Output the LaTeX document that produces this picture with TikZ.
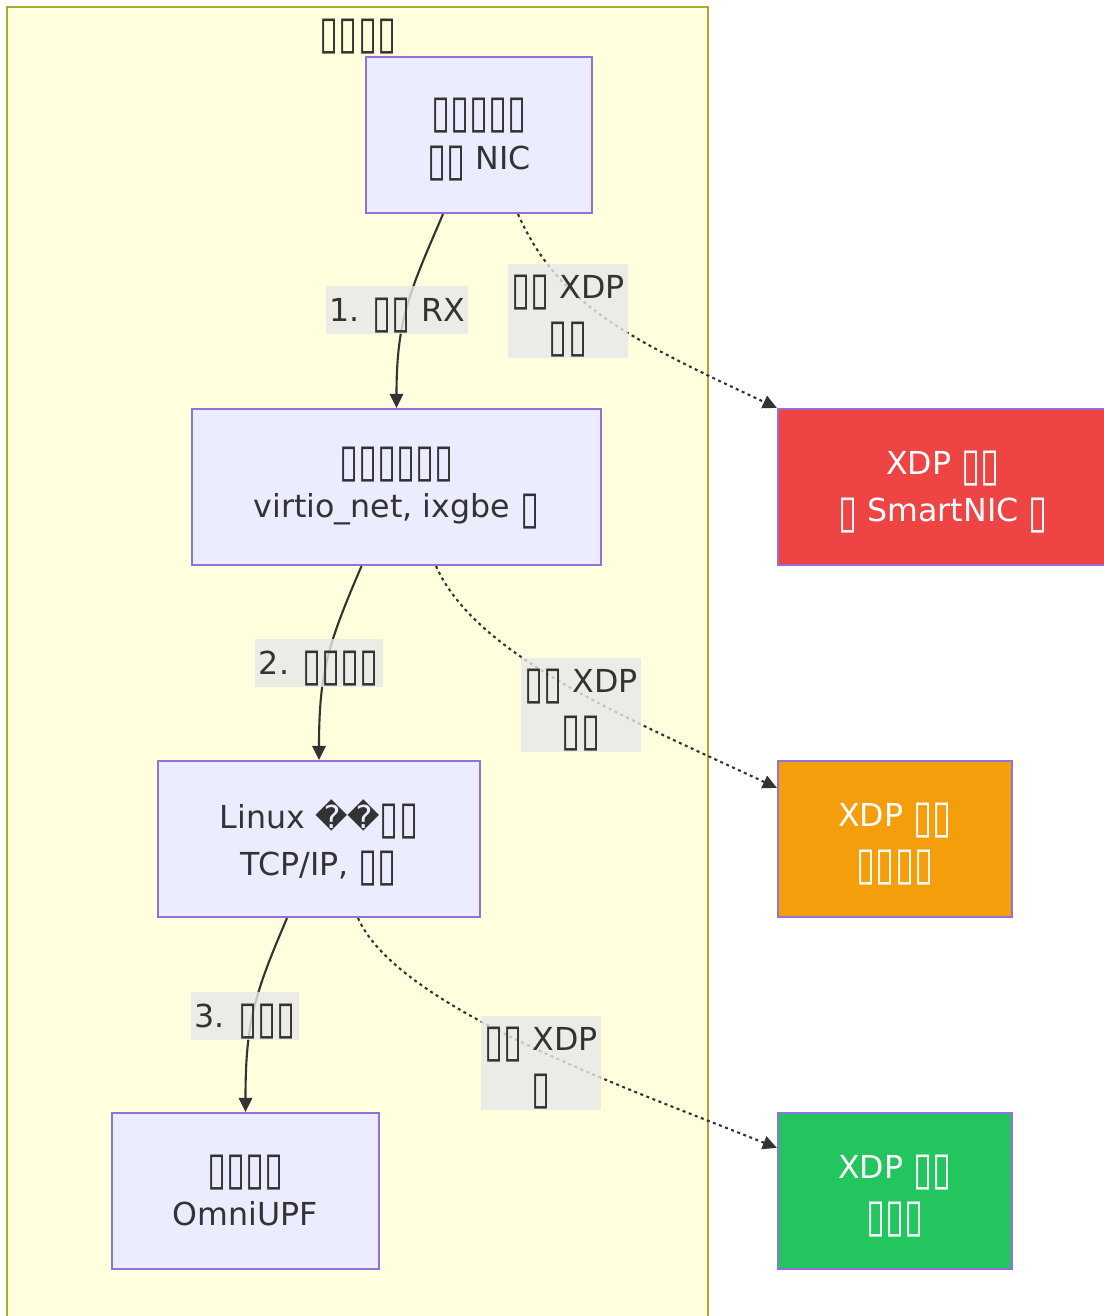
\documentclass[tikz,border=0pt]{standalone}
\usepackage{graphicx}
\usepackage{fontspec}
\setmainfont{DejaVu Sans}
\usetikzlibrary{calc,arrows.meta}

\definecolor{clfill}{HTML}{FFFFDE}
\definecolor{cldraw}{HTML}{AAAA33}
\definecolor{ndfill}{HTML}{ECECFF}
\definecolor{nddraw}{HTML}{9370DB}
\definecolor{txt}{HTML}{333333}
\definecolor{lblbg}{HTML}{E8E8E8}
\definecolor{xdpred}{HTML}{EF4444}
\definecolor{xdporange}{HTML}{F59E0B}
\definecolor{xdpgreen}{HTML}{22C55E}

% 表示できない文字
\newcommand{\tofu}{\raisebox{-0.18em}[0.7em][0pt]{\scalebox{1.1}[1.45]{▯}}}

\tikzset{
  box/.style={draw=nddraw, fill=ndfill, line width=0.6pt, minimum height=1.56cm,
    align=center, text=txt, font=\fontsize{9}{13.4}\selectfont},
  xdpbox/.style={box, text=white},
  elabel/.style={fill=lblbg, fill opacity=0.8, text opacity=1, text=txt,
    inner xsep=1pt, inner ysep=0pt, minimum height=0.47cm, align=center,
    font=\fontsize{9}{13.4}\selectfont},
  uflow/.style={draw=txt, line width=0.6pt, -{Triangle[length=4pt,width=3.8pt]}},
  xflow/.style={uflow, dash pattern=on 0.85pt off 1pt},
}

\begin{document}
\begin{tikzpicture}[x=0.01cm, y=-0.01cm]
  \useasboundingbox (0,0) rectangle (1103,1316);
  % 枠
  \draw[draw=cldraw, fill=clfill, line width=0.75pt] (7,7) rectangle (708,1340);
  \node[text=txt, font=\fontsize{9}{13.4}\selectfont] (host) at (358,32) {\tofu\tofu\tofu\tofu};
  % ノード
  \node[box, minimum width=2.26cm] (nic) at (479,135) {\tofu\tofu\tofu\tofu\tofu\\\tofu\tofu{} NIC};
  \node[box, minimum width=4.09cm] (drv) at (396.5,487) {\tofu\tofu\tofu\tofu\tofu\tofu\\virtio\_net, ixgbe \tofu};
  \node[box, minimum width=3.22cm] (kern) at (319,839) {Linux ��\tofu\tofu\\TCP/IP, \tofu\tofu};
  \node[box, minimum width=2.67cm] (app) at (245.5,1191) {\tofu\tofu\tofu\tofu\\OmniUPF};
  \node[xdpbox, fill=xdpred, minimum width=3.30cm] (offl) at (943,487) {XDP \tofu\tofu\\\tofu{} SmartNIC \tofu};
  \node[xdpbox, fill=xdporange, minimum width=2.34cm] (natv) at (895,839) {XDP \tofu\tofu\\\tofu\tofu\tofu\tofu};
  \node[xdpbox, fill=xdpgreen, minimum width=2.34cm] (gnrc) at (895,1191) {XDP \tofu\tofu\\\tofu\tofu\tofu};
  % 実線
  \draw[uflow] ($(nic.south)+(-36,0)$) .. controls +(-33,77) and +(0,-89) .. (drv.north);
  \draw[uflow] ($(drv.south)+(-35,0)$) .. controls +(-33,77) and +(0,-89) .. (kern.north);
  \draw[uflow] ($(kern.south)+(-32,0)$) .. controls +(-33,77) and +(0,-89) .. (app.north);
  % 点線
  \draw[xflow] ($(nic.south)+(39,0)$) .. controls +(40,90) and +(-150,-70) .. (offl.north west);
  \draw[xflow] ($(drv.south)+(39.5,0)$) .. controls +(40,90) and +(-150,-70) .. ($(natv.north west)+(0,28)$);
  \draw[xflow] ($(kern.south)+(39,0)$) .. controls +(40,90) and +(-150,-60) .. ($(gnrc.north west)+(0,36)$);
  % ラベル
  \node[elabel] (l1) at (397,310) {1. \tofu\tofu{} RX};
  \node[elabel] (l2) at (319,663) {2. \tofu\tofu\tofu\tofu};
  \node[elabel] (l3) at (245,1016) {3. \tofu\tofu\tofu};
  \node[elabel, minimum height=0.94cm] (x1) at (568,311) {\tofu\tofu{} XDP\\\tofu\tofu};
  \node[elabel, minimum height=0.94cm] (x2) at (581,705) {\tofu\tofu{} XDP\\\tofu\tofu};
  \node[elabel, minimum height=0.94cm] (x3) at (541,1063) {\tofu\tofu{} XDP\\\tofu};
\end{tikzpicture}
\end{document}
